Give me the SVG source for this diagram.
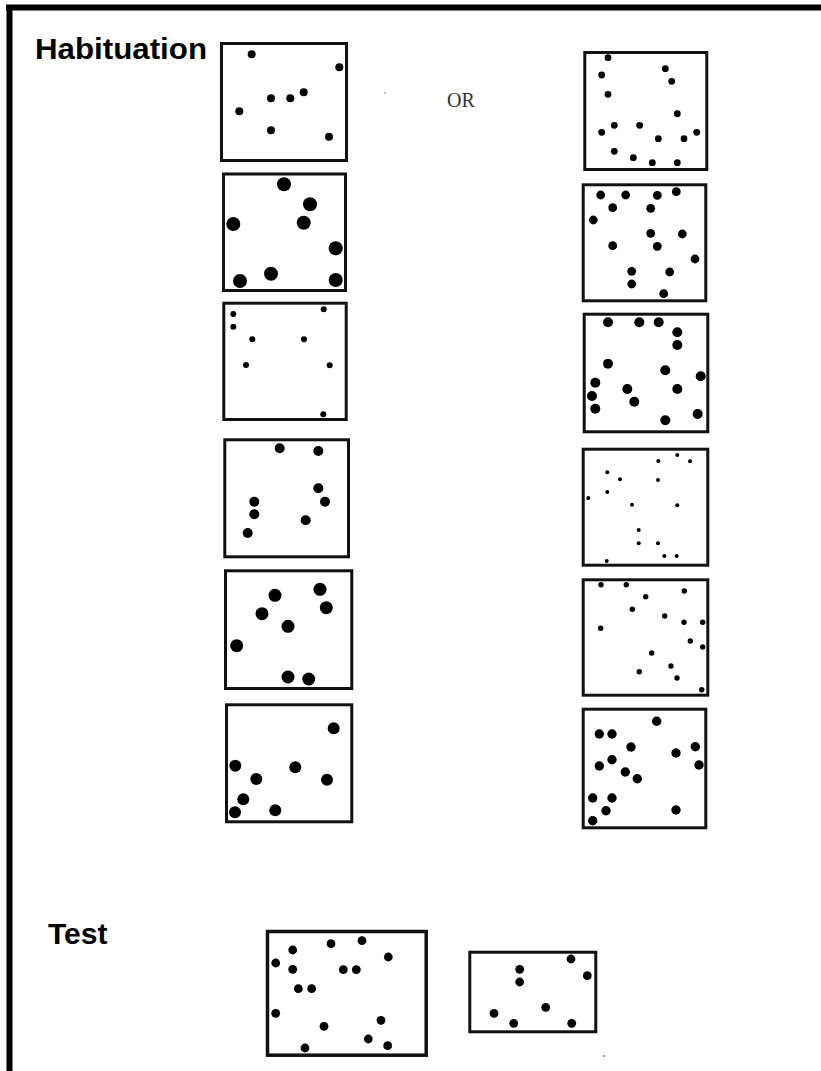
<svg xmlns="http://www.w3.org/2000/svg" width="821" height="1071" viewBox="0 0 821 1071">
<style>
.panel{fill:#fff;stroke:#111;stroke-width:3}
.d{fill:#000}
.label{font-family:"Liberation Sans",Arial,sans-serif;font-weight:bold;font-size:30px;fill:#000}
.or{font-family:"Liberation Serif","Times New Roman",serif;font-size:20px;fill:#333}
</style>
<rect x="0" y="0" width="821" height="1071" fill="#fff"/>
<g id="frame">
<line x1="6" y1="7.5" x2="821" y2="7.5" stroke="#000" stroke-width="6"/>
<line x1="9.5" y1="5" x2="9.5" y2="1071" stroke="#000" stroke-width="6"/>
</g>
<g id="labels">
<text class="label" x="35" y="59" textLength="172" lengthAdjust="spacingAndGlyphs">Habituation</text>
<text class="label" x="48" y="944">Test</text>
<text class="or" x="447" y="107">OR</text>
</g>
<g id="connectors"></g>
<g id="specks" fill="#777">
<circle cx="385" cy="93" r="0.8"/>
<circle cx="604" cy="1056" r="1"/>
</g>
<g id="hab-left-1">
<rect class="panel" x="221.5" y="43.5" width="125" height="117"/>
<g class="d">
<circle cx="251.7" cy="54.3" r="4"/><circle cx="339.3" cy="67.3" r="4"/><circle cx="271" cy="98.3" r="4"/><circle cx="290.3" cy="98.3" r="4"/><circle cx="303.7" cy="92.3" r="4"/><circle cx="239.3" cy="111.3" r="4"/><circle cx="271" cy="130.3" r="4"/><circle cx="329" cy="136.7" r="4"/>
</g>
</g>
<g id="hab-left-2">
<rect class="panel" x="223.5" y="174" width="122" height="116.5"/>
<g class="d">
<circle cx="284" cy="184.3" r="7"/><circle cx="310" cy="204.3" r="7"/><circle cx="233.3" cy="224" r="7"/><circle cx="303.7" cy="222.7" r="7"/><circle cx="335.7" cy="248.3" r="7"/><circle cx="271" cy="273.7" r="7"/><circle cx="240" cy="281" r="7"/><circle cx="335.7" cy="280" r="7"/>
</g>
</g>
<g id="hab-left-3">
<rect class="panel" x="223.8" y="303.2" width="122.4" height="116.3"/>
<g class="d">
<circle cx="233.3" cy="314" r="3"/><circle cx="233.3" cy="326.7" r="3"/><circle cx="323.7" cy="309.3" r="3"/><circle cx="252.3" cy="339.3" r="3"/><circle cx="304" cy="339.3" r="3"/><circle cx="246" cy="365" r="3"/><circle cx="329.7" cy="365.3" r="3"/><circle cx="323.3" cy="414.3" r="3"/>
</g>
</g>
<g id="hab-left-4">
<rect class="panel" x="224.8" y="439.8" width="123.7" height="117"/>
<g class="d">
<circle cx="279.7" cy="448.3" r="5"/><circle cx="318.3" cy="451" r="5"/><circle cx="254.3" cy="501.7" r="5"/><circle cx="254.3" cy="514.3" r="5"/><circle cx="247.7" cy="533" r="5"/><circle cx="318.3" cy="488.3" r="5"/><circle cx="325" cy="501.7" r="5"/><circle cx="305.7" cy="520.3" r="5"/>
</g>
</g>
<g id="hab-left-5">
<rect class="panel" x="225.5" y="570.8" width="126.3" height="117.7"/>
<g class="d">
<circle cx="275" cy="595.3" r="6.5"/><circle cx="320" cy="589.3" r="6.5"/><circle cx="326.3" cy="607.7" r="6.5"/><circle cx="262" cy="613.7" r="6.5"/><circle cx="288" cy="626.3" r="6.5"/><circle cx="236.7" cy="645.7" r="6.5"/><circle cx="288" cy="677" r="6.5"/><circle cx="308.7" cy="679" r="6.5"/>
</g>
</g>
<g id="hab-left-6">
<rect class="panel" x="226.5" y="704.8" width="125.3" height="117"/>
<g class="d">
<circle cx="333.7" cy="728.3" r="6"/><circle cx="235.3" cy="765.7" r="6"/><circle cx="295.3" cy="767.3" r="6"/><circle cx="256.3" cy="779" r="6"/><circle cx="327" cy="779.7" r="6"/><circle cx="243.3" cy="799.3" r="6"/><circle cx="235" cy="812.3" r="6"/><circle cx="275.3" cy="810.3" r="6"/>
</g>
</g>
<g id="hab-right-1">
<rect class="panel" x="584.8" y="52.5" width="122" height="117"/>
<g class="d">
<circle cx="608" cy="57.7" r="3.4"/><circle cx="601.7" cy="75" r="3.4"/><circle cx="665.3" cy="68.7" r="3.4"/><circle cx="671.7" cy="81.3" r="3.4"/><circle cx="608" cy="94.3" r="3.4"/><circle cx="677.3" cy="113.7" r="3.4"/><circle cx="601.7" cy="132.3" r="3.4"/><circle cx="614.3" cy="125.3" r="3.4"/><circle cx="639.7" cy="125.3" r="3.4"/><circle cx="658.3" cy="138.7" r="3.4"/><circle cx="684" cy="138.7" r="3.4"/><circle cx="696.7" cy="132.3" r="3.4"/><circle cx="614.3" cy="151.3" r="3.4"/><circle cx="633.3" cy="157.7" r="3.4"/><circle cx="652.3" cy="162.7" r="3.4"/><circle cx="677.3" cy="162.7" r="3.4"/>
</g>
</g>
<g id="hab-right-2">
<rect class="panel" x="583.2" y="184.8" width="122.6" height="116"/>
<g class="d">
<circle cx="600.7" cy="195" r="4.4"/><circle cx="625.7" cy="195" r="4.4"/><circle cx="657.3" cy="195.3" r="4.4"/><circle cx="676.3" cy="191.7" r="4.4"/><circle cx="612.7" cy="207.7" r="4.4"/><circle cx="650.7" cy="208.3" r="4.4"/><circle cx="593.3" cy="220" r="4.4"/><circle cx="650.7" cy="233.3" r="4.4"/><circle cx="682.3" cy="234" r="4.4"/><circle cx="612.7" cy="245.7" r="4.4"/><circle cx="657.3" cy="246.3" r="4.4"/><circle cx="695" cy="259" r="4.4"/><circle cx="631.7" cy="271.3" r="4.4"/><circle cx="669.7" cy="272" r="4.4"/><circle cx="631.7" cy="284" r="4.4"/><circle cx="663.7" cy="293.7" r="4.4"/>
</g>
</g>
<g id="hab-right-3">
<rect class="panel" x="584.2" y="314.2" width="123.6" height="117.6"/>
<g class="d">
<circle cx="608" cy="322.3" r="5"/><circle cx="639.3" cy="322.3" r="5"/><circle cx="658.7" cy="322.3" r="5"/><circle cx="677.3" cy="332.3" r="5"/><circle cx="677.3" cy="345" r="5"/><circle cx="608" cy="363.7" r="5"/><circle cx="665.3" cy="370.3" r="5"/><circle cx="700.7" cy="376.3" r="5"/><circle cx="595.3" cy="382.7" r="5"/><circle cx="627.3" cy="389" r="5"/><circle cx="677.3" cy="389" r="5"/><circle cx="592" cy="396" r="5"/><circle cx="634.3" cy="401.7" r="5"/><circle cx="595.3" cy="408.7" r="5"/><circle cx="665.3" cy="420.3" r="5"/><circle cx="697.7" cy="414" r="5"/>
</g>
</g>
<g id="hab-right-4">
<rect class="panel" x="583.2" y="449.2" width="124.6" height="116"/>
<g class="d">
<circle cx="677.3" cy="455" r="2"/><circle cx="658.3" cy="461" r="2"/><circle cx="690" cy="461.3" r="2"/><circle cx="607.3" cy="472.3" r="2"/><circle cx="620" cy="479.3" r="2"/><circle cx="658" cy="480" r="2"/><circle cx="607.3" cy="492" r="2"/><circle cx="588.3" cy="498" r="2"/><circle cx="632" cy="504.7" r="2"/><circle cx="677.3" cy="505.3" r="2"/><circle cx="638.7" cy="530" r="2"/><circle cx="638.7" cy="543.3" r="2"/><circle cx="658" cy="543.3" r="2"/><circle cx="664.3" cy="556" r="2"/><circle cx="676.7" cy="556" r="2"/><circle cx="606.7" cy="561" r="2"/>
</g>
</g>
<g id="hab-right-5">
<rect class="panel" x="583.2" y="579.8" width="124.6" height="115.4"/>
<g class="d">
<circle cx="601" cy="584.7" r="2.7"/><circle cx="626.3" cy="584.7" r="2.7"/><circle cx="684.3" cy="591" r="2.7"/><circle cx="645.7" cy="596.7" r="2.7"/><circle cx="632.3" cy="609.3" r="2.7"/><circle cx="664.7" cy="616" r="2.7"/><circle cx="684" cy="622.3" r="2.7"/><circle cx="702.7" cy="622.3" r="2.7"/><circle cx="600.7" cy="628.3" r="2.7"/><circle cx="690.3" cy="641" r="2.7"/><circle cx="702.7" cy="647" r="2.7"/><circle cx="651.7" cy="653" r="2.7"/><circle cx="671" cy="666" r="2.7"/><circle cx="639.3" cy="671.7" r="2.7"/><circle cx="677" cy="678" r="2.7"/><circle cx="701.7" cy="689.7" r="2.7"/>
</g>
</g>
<g id="hab-right-6">
<rect class="panel" x="583.2" y="709.2" width="122.6" height="118.6"/>
<g class="d">
<circle cx="656.7" cy="721.3" r="4.7"/><circle cx="599.3" cy="734" r="4.7"/><circle cx="612" cy="734" r="4.7"/><circle cx="631" cy="747" r="4.7"/><circle cx="695.3" cy="746.7" r="4.7"/><circle cx="676" cy="753" r="4.7"/><circle cx="612" cy="759.7" r="4.7"/><circle cx="599.3" cy="766" r="4.7"/><circle cx="699" cy="765" r="4.7"/><circle cx="625.3" cy="772" r="4.7"/><circle cx="637.3" cy="778.7" r="4.7"/><circle cx="592.7" cy="798" r="4.7"/><circle cx="612" cy="798" r="4.7"/><circle cx="606" cy="810.7" r="4.7"/><circle cx="676" cy="810" r="4.7"/><circle cx="592.7" cy="820.7" r="4.7"/>
</g>
</g>
<g id="test-1">
<rect class="panel" x="267.5" y="931.5" width="158.7" height="123.7" style="stroke-width:3.5"/>
<g class="d">
<circle cx="292.7" cy="950" r="4.4"/><circle cx="331" cy="943.7" r="4.4"/><circle cx="362" cy="940.7" r="4.4"/><circle cx="388.3" cy="957" r="4.4"/><circle cx="275.7" cy="963" r="4.4"/><circle cx="292.7" cy="969.3" r="4.4"/><circle cx="343.3" cy="969.7" r="4.4"/><circle cx="356.3" cy="969.7" r="4.4"/><circle cx="298.3" cy="988.7" r="4.4"/><circle cx="311.7" cy="988.7" r="4.4"/><circle cx="275.7" cy="1013.3" r="4.4"/><circle cx="381" cy="1020.3" r="4.4"/><circle cx="324" cy="1026.3" r="4.4"/><circle cx="368.3" cy="1039" r="4.4"/><circle cx="387.7" cy="1045.7" r="4.4"/><circle cx="305" cy="1048" r="4.4"/>
</g>
</g>
<g id="test-2">
<rect class="panel" x="469.8" y="952.2" width="126" height="79.6"/>
<g class="d">
<circle cx="571" cy="959" r="4.4"/><circle cx="519.7" cy="969.3" r="4.4"/><circle cx="587.3" cy="975.7" r="4.4"/><circle cx="519.7" cy="982" r="4.4"/><circle cx="545.7" cy="1007.3" r="4.4"/><circle cx="494" cy="1013.3" r="4.4"/><circle cx="513.7" cy="1023.3" r="4.4"/><circle cx="571.7" cy="1023.3" r="4.4"/>
</g>
</g>
</svg>
